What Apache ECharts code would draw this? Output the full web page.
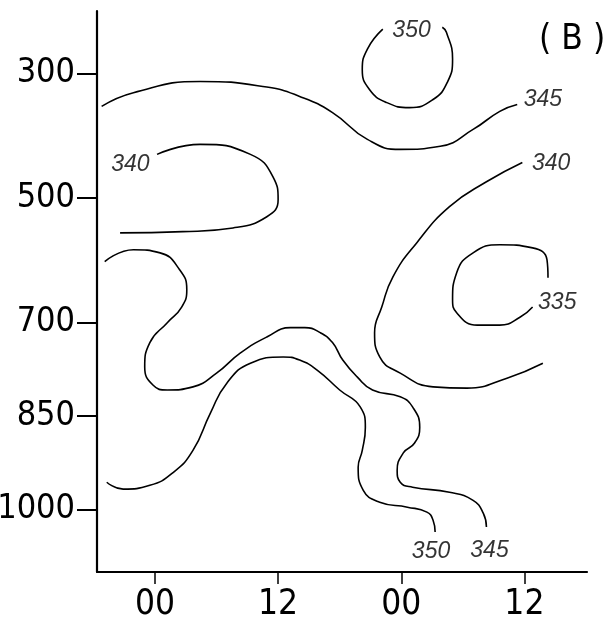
<!DOCTYPE html>
<html>
<head>
<meta charset="utf-8">
<script src="https://cdn.jsdelivr.net/npm/echarts@6/dist/echarts.min.js"></script>
<style>
  html, body { margin: 0; padding: 0; background: #fff; }
  #chart { width: 609px; height: 621px; }
</style>
</head>
<body>
<div id="chart"></div>
<script>
// isentropes (K), points are [hour, hPa]
const c345Top = [[-5.2,353],[-2.1,331],[4.4,313],[10.9,322],[14.1,337],[17.3,363],[20.7,406],[23.9,422],[27.8,417],[31.0,390],[33.6,361],[35.3,350]];
const c350Ring = [[22.2,229],[20.7,261],[20.2,294],[20.9,326],[22.6,347],[24.8,355],[27.1,342],[28.5,314],[29.0,277],[28.4,234],[28.0,226]];
const c340Left = [[0.2,430],[4.4,414],[9.3,430],[11.5,466],[12.0,503],[10.9,530],[7.6,548],[2.7,554],[-3.4,556]];
const c340Right = [[35.8,443],[32.3,474],[28.7,514],[25.5,572],[23.2,626],[22.1,675],[21.4,716],[21.9,755],[23.9,781],[27.1,803],[30.4,805],[34.3,789],[37.8,765]];
const c335 = [[38.3,628],[38.2,599],[36.8,580],[33.6,575],[31.0,588],[29.4,620],[29.0,663],[29.4,684],[31.4,704],[33.6,704],[35.6,691],[36.8,675]];
const c345Low = [[-4.9,602],[-2.1,583],[0.5,588],[2.4,615],[3.1,647],[2.6,675],[1.2,700],[-0.5,732],[-1.0,771],[-0.2,800],[1.2,808],[3.7,803],[6.0,781],[8.3,749],[10.9,723],[13.2,708],[14.6,708],[16.1,716],[17.3,732],[18.3,760],[19.7,787],[21.2,808],[23.9,819],[25.1,835],[25.8,868],[25.3,893],[24.2,909],[23.6,937],[23.9,956],[25.1,964],[28.7,972],[31.0,985],[32.0,1006],[32.3,1028]];
const c350Low = [[-4.7,956],[-3.1,967],[-0.5,961],[1.8,940],[3.7,905],[5.4,845],[7.0,797],[9.3,765],[12.5,755],[14.1,760],[15.8,776],[18.0,808],[20.0,835],[20.5,868],[20.2,905],[19.8,932],[20.3,969],[21.9,988],[24.6,996],[26.5,1004],[27.1,1017],[27.3,1036]];

const contourLines = [c345Top, c350Ring, c340Left, c340Right, c335, c345Low, c350Low];

const labelPos = [[25.0,232],[37.8,342],[-2.4,446],[38.6,445],[39.2,668],[26.9,1067],[32.6,1065]];
const labelText = ["350","345","340","340","335","350","345"];

const hourTicks = [0, 12, 24, 36];
const hourLabels = ["00", "12", "00", "12"];
const levelTicks = [300, 500, 700, 850, 1000];

const tickFont = '"Liberation Sans Narrow", "DejaVu Sans Condensed", sans-serif';

const chart = echarts.init(document.getElementById("chart"));

const series = contourLines.map(pts => ({
  type: "line",
  data: pts,
  smooth: 0.5,
  showSymbol: false,
  symbol: "none",
  silent: true,
  clip: false,
  lineStyle: { color: "#000", width: 1.6 },
}));

series.push({
  type: "scatter",
  symbolSize: 0,
  silent: true,
  data: labelPos.map((p, i) => ({ value: p, name: labelText[i] })),
  label: {
    show: true,
    position: "inside",
    formatter: p => p.name,
    color: "#000",
    textBorderWidth: 0,
    fontStyle: "italic",
    fontFamily: '"Liberation Sans", sans-serif',
    fontSize: 23,
  },
});

chart.setOption({
  backgroundColor: "#fff",
  animation: false,
  title: {
    text: "( B )",
    left: 534,
    top: 17,
    textStyle: { fontFamily: tickFont, fontSize: 35, fontWeight: "normal", color: "#000" },
  },
  grid: { left: 97, right: 22, top: 11, bottom: 49, outerBoundsMode: "none", containLabel: false },
  xAxis: {
    type: "value",
    min: -5.65,
    max: 42.1,
    splitLine: { show: false },
    axisLine: { onZero: false, lineStyle: { color: "#000", width: 2.2 } },
    axisTick: { customValues: hourTicks, length: 12, lineStyle: { color: "#000", width: 1.5 } },
    axisLabel: {
      customValues: hourTicks,
      formatter: v => hourLabels[hourTicks.indexOf(v)],
      margin: 15,
      color: "#000",
      fontFamily: tickFont,
      fontSize: 35,
    },
  },
  yAxis: {
    type: "value",
    inverse: true,
    min: 200,
    max: 1100,
    splitLine: { show: false },
    axisLine: { onZero: false, lineStyle: { color: "#000", width: 2.2 } },
    axisTick: { customValues: levelTicks, length: 20, lineStyle: { color: "#000", width: 2 } },
    axisLabel: {
      customValues: levelTicks,
      formatter: v => String(v),
      margin: 22,
      color: "#000",
      fontFamily: tickFont,
      fontSize: 34,
    },
  },
  series,
});
</script>
</body>
</html>
